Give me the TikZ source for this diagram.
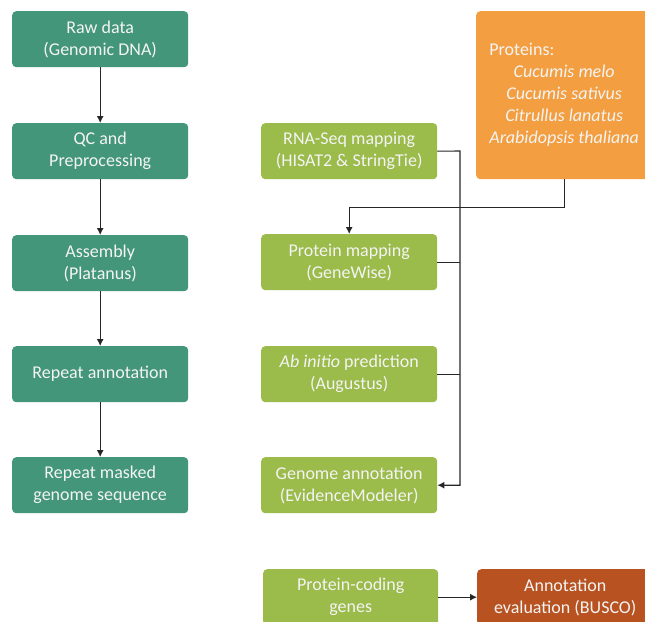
\documentclass[tikz,border=0pt]{standalone}
\usepackage{fontspec}
\setmainfont{Carlito}
\usepackage{calc}
\usetikzlibrary{arrows.meta}
\definecolor{teal1}{HTML}{43967A}
\definecolor{lime1}{HTML}{9BBB4A}
\definecolor{orange1}{HTML}{F39F41}
\definecolor{rust1}{HTML}{B85220}
\definecolor{txt}{HTML}{F4F4F4}
\tikzset{
  box/.style={rounded corners=4pt, minimum width=176pt, minimum height=56pt, inner sep=0pt,
    anchor=north west, align=center, text=txt, font=\fontsize{18}{22}\selectfont},
  tealbox/.style={box, fill=teal1},
  limebox/.style={box, fill=lime1},
  orangebox/.style={box, fill=orange1},
  rustbox/.style={box, fill=rust1},
  conn/.style={line width=1.1pt, draw=black!85},
  arr/.style={conn, -{Latex[length=7pt,width=7pt]}}
}
\begin{document}
\begin{tikzpicture}[x=1pt,y=-1pt]
\useasboundingbox (0,0) rectangle (645,621);
\begin{scope}
\clip (0,0) rectangle (645,621);
% left column
\node[tealbox] (raw) at (12,11) {Raw data\\(Genomic DNA)};
\node[tealbox] (qc) at (12,123) {QC and\\Preprocessing};
\node[tealbox] (asm) at (12,235) {Assembly\\(Platanus)};
\node[tealbox] (rep) at (12,346) {Repeat annotation};
\node[tealbox] (rmg) at (12,457) {Repeat masked\\genome sequence};
% middle column
\node[limebox] (rna) at (261,123) {RNA-Seq mapping\\(HISAT2 \& StringTie)};
\node[limebox] (pm) at (261,234) {Protein mapping\\(GeneWise)};
\node[limebox] (ab) at (261,346) {\textit{Ab initio} prediction\\(Augustus)};
\node[limebox] (ga) at (261,457) {Genome annotation\\(EvidenceModeler)};
\node[limebox, minimum width=175pt] (pcg) at (263,569) {Protein-coding\\genes};
\node[rustbox] (ae) at (477,569) {Annotation\\evaluation (BUSCO)};
% proteins
\node[orangebox, minimum height=168pt] (prot) at (476,11) {\makebox[\widthof{\itshape Arabidopsis thaliana}][l]{Proteins:}\\\textit{Cucumis melo}\\\textit{Cucumis sativus}\\\textit{Citrullus lanatus}\\\textit{Arabidopsis thaliana}};
\end{scope}
% connectors left
\draw[arr] (raw) -- (qc);
\draw[arr] (qc) -- (asm);
\draw[arr] (asm) -- (rep);
\draw[arr] (rep) -- (rmg);
% bus
\coordinate (bus) at (460,151);
\draw[arr] (rna.east) -- (bus) -- (bus |- ga.east) -- (ga.east);
\draw[conn] (pm.east) -- (bus |- pm.east);
\draw[conn] (ab.east) -- (bus |- ab.east);
% proteins to protein mapping
\draw[arr] (prot.south) -- ++(0,28) -| (pm.north);
% final
\draw[arr] (pcg.east) -- (ae.west);
\end{tikzpicture}
\end{document}
